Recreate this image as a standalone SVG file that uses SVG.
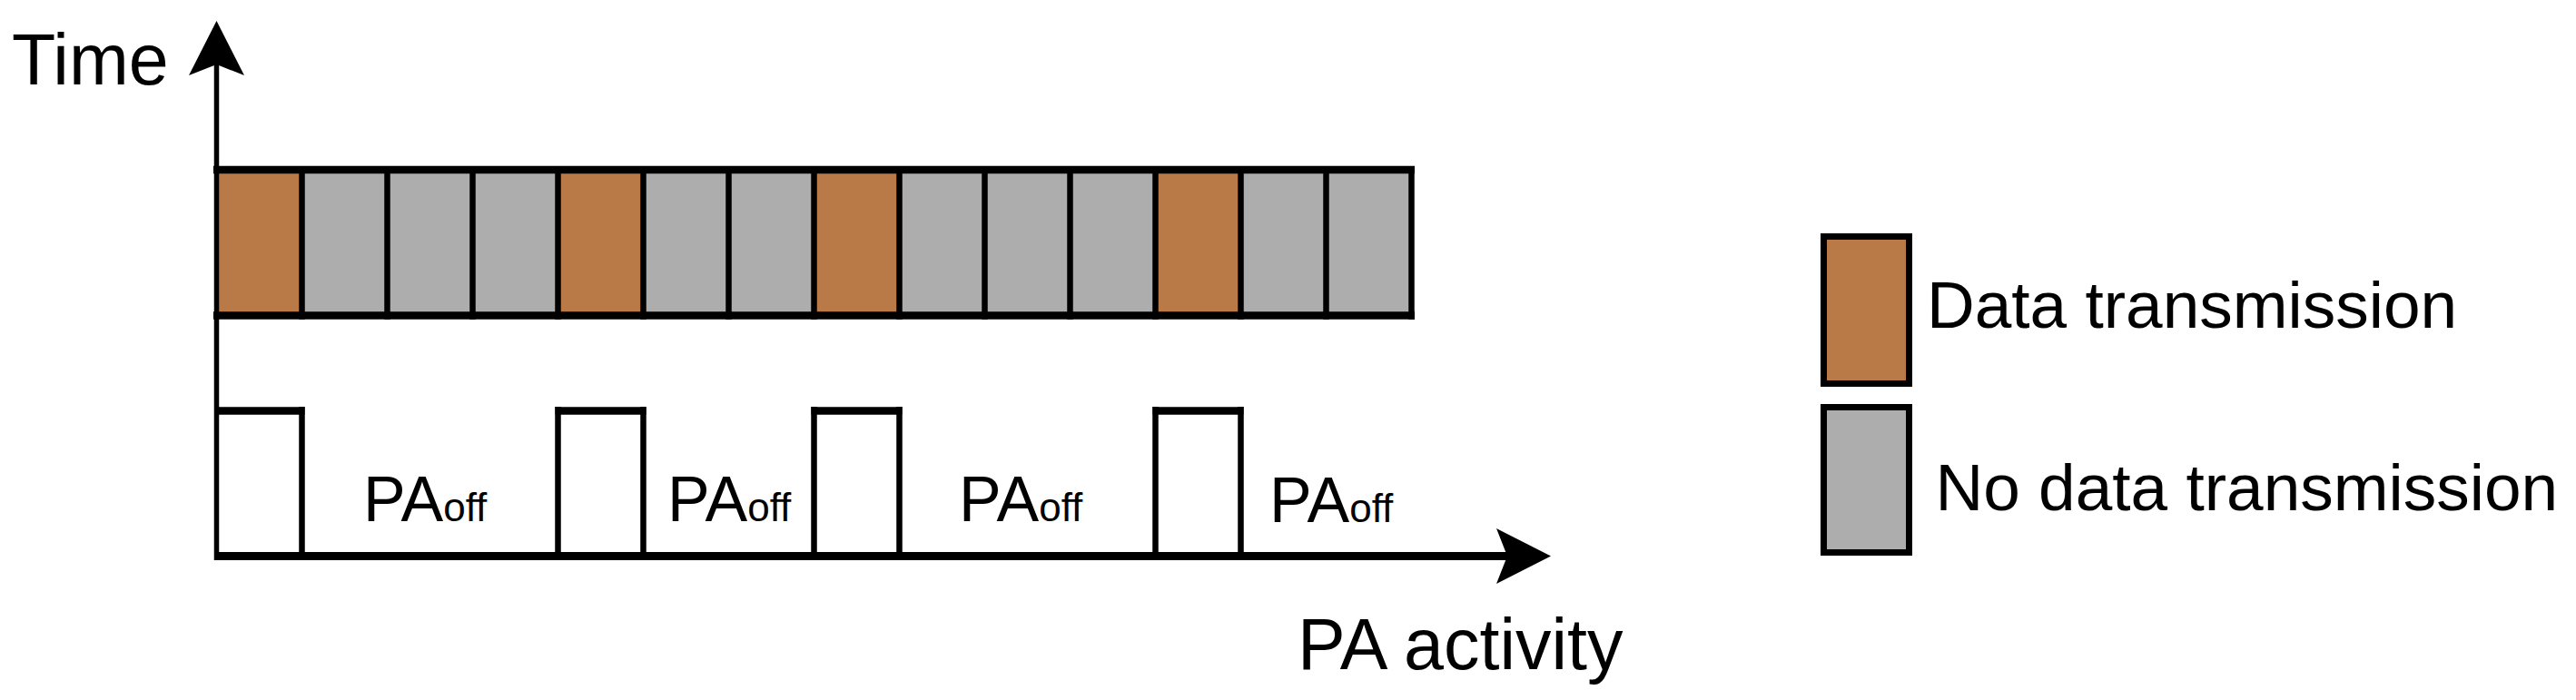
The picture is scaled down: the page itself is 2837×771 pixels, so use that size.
<svg xmlns="http://www.w3.org/2000/svg" width="2837" height="771" viewBox="0 0 2837 771">
<style>
.lbl{font-family:"Liberation Sans",Arial,sans-serif;fill:#000}
.data{fill:#B97A48}
.idle{fill:#ADADAD}
.h{stroke:#000;stroke-width:8.5;fill:none}
.v{stroke:#000;stroke-width:6.5;fill:none}
.leg{stroke:#000;stroke-width:7}
</style>
<defs>
<marker id="arr" viewBox="0 0 60 61" refX="12" refY="30.5" markerWidth="60" markerHeight="61" markerUnits="userSpaceOnUse" orient="auto">
<path d="M60,30.5 L0,0 L12,30.5 L0,61 Z" fill="#000"/>
</marker>
</defs>
<rect width="2837" height="771" fill="#fff"/>

<g id="time-bar">
<rect class="data" x="238.5" y="187" width="94" height="160.5"/>
<rect class="idle" x="332.5" y="187" width="94" height="160.5"/>
<rect class="idle" x="426.5" y="187" width="94" height="160.5"/>
<rect class="idle" x="520.5" y="187" width="94" height="160.5"/>
<rect class="data" x="614.5" y="187" width="94" height="160.5"/>
<rect class="idle" x="708.5" y="187" width="94" height="160.5"/>
<rect class="idle" x="802.5" y="187" width="94" height="160.5"/>
<rect class="data" x="896.5" y="187" width="94" height="160.5"/>
<rect class="idle" x="990.5" y="187" width="94" height="160.5"/>
<rect class="idle" x="1084.5" y="187" width="94" height="160.5"/>
<rect class="idle" x="1178.5" y="187" width="94" height="160.5"/>
<rect class="data" x="1272.5" y="187" width="94" height="160.5"/>
<rect class="idle" x="1366.5" y="187" width="94" height="160.5"/>
<rect class="idle" x="1460.5" y="187" width="94" height="160.5"/>
<path class="h" d="M235,187 H1558 M235,347.5 H1558"/>
<path class="v" d="M332.5,183 V352 M426.5,183 V352 M520.5,183 V352 M614.5,183 V352 M708.5,183 V352 M802.5,183 V352 M896.5,183 V352 M990.5,183 V352 M1084.5,183 V352 M1178.5,183 V352 M1272.5,183 V352 M1366.5,183 V352 M1460.5,183 V352 M1554.5,183 V352"/>
</g>

<g id="pa-pulses">
<path class="h" d="M236,452.5 H335.5 M611.5,452.5 H711.5 M893.5,452.5 H993.5 M1269.5,452.5 H1369.5"/>
<path class="v" d="M332.5,448 V612 M614.5,448 V612 M708.5,448 V612 M896.5,448 V612 M990.5,448 V612 M1272.5,448 V612 M1366.5,448 V612"/>
</g>

<g id="connectors">
<path d="M238.5,617 V71" stroke="#000" stroke-width="5.5" fill="none" marker-end="url(#arr)"/>
<path d="M236,612.5 H1660" stroke="#000" stroke-width="9" fill="none" marker-end="url(#arr)"/>
</g>

<g id="pa-off-labels">
<text class="lbl" x="400" y="574" font-size="70">PA<tspan font-size="44">off</tspan></text>
<text class="lbl" x="735" y="574" font-size="70">PA<tspan font-size="44">off</tspan></text>
<text class="lbl" x="1056" y="574" font-size="70">PA<tspan font-size="44">off</tspan></text>
<text class="lbl" x="1398" y="575" font-size="70">PA<tspan font-size="44">off</tspan></text>
</g>

<g id="axis-labels">
<text class="lbl" x="13" y="93" font-size="79">Time</text>
<text class="lbl" x="1429" y="737" font-size="79">PA activity</text>
</g>

<g id="legend-data">
<rect class="data leg" x="2008.5" y="260.5" width="94" height="162"/>
<text class="lbl" x="2122" y="361" font-size="73">Data transmission</text>
</g>
<g id="legend-nodata">
<rect class="idle leg" x="2008.5" y="448.5" width="94" height="160"/>
<text class="lbl" x="2131.5" y="562" font-size="73">No data transmission</text>
</g>
</svg>
